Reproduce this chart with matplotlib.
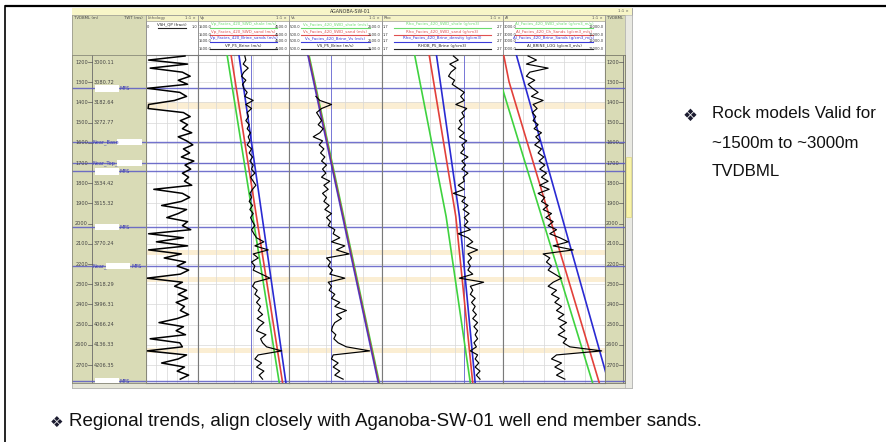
import numpy as np
import matplotlib
matplotlib.use("Agg")
import matplotlib.pyplot as plt
from matplotlib.patches import Rectangle

W, H = 887, 442

# depth window of the log display, m TVDBML
TOP, BASE = 1165, 2789

# log samples every 20 m
DEPTH = np.arange(1170, 2771, 20)

VSH = [0.75, 0.05, 0.80, 0.08, 0.70, 0.85, 0.62, 0.80, 0.03, 0.65,
       0.78, 0.55, 0.05, 0.04, 0.72, 0.85, 0.66, 0.80, 0.70, 0.88,
       0.62, 0.78, 0.90, 0.72, 0.84, 0.68, 0.92, 0.75, 0.86, 0.70,
       0.82, 0.74, 0.88, 0.15, 0.70, 0.84, 0.68, 0.30, 0.78, 0.62,
       0.40, 0.80, 0.70, 0.86, 0.05, 0.72, 0.20, 0.80, 0.05, 0.68,
       0.35, 0.76, 0.60, 0.82, 0.66, 0.02, 0.70, 0.55, 0.78, 0.62,
       0.80, 0.58, 0.74, 0.66, 0.82, 0.60, 0.25, 0.72, 0.58, 0.76,
       0.08, 0.65, 0.70, 0.02, 0.78, 0.62, 0.30, 0.74, 0.60, 0.82,
       0.66]

VP_LOG = [3044, 3077, 2989, 3155, 3011, 2934, 3077, 2967, 3011, 3121,
          3044, 3320, 3077, 3265, 3121, 3165, 3077, 3188, 3121, 3232,
          3155, 3210, 3121, 3265, 3188, 3298, 3210, 3320, 3265, 3375,
          3232, 3320, 3408, 3298, 3210, 3265, 3188, 3298, 3210, 3320,
          3232, 3298, 3375, 3265, 3342, 3430, 3673, 3375, 3816, 3320,
          3485, 3265, 3375, 3320, 3596, 3872, 3375, 3298, 3452, 3375,
          3541, 3430, 3563, 3485, 3629, 3452, 3673, 3519, 3430, 3739,
          3563, 3629, 3761, 4258, 3485, 3375, 3596, 3430, 3673, 3519,
          3629]

nan = np.nan
VS_LOG = [nan, nan, nan, nan, nan, nan, nan, nan, nan, nan,
          1078, 1164, 1414, 1200, 1093, 1150, 1200, 1128, 1235, 1164,
          1021, 1221, 1150, 1250, 1178, 1271, 1200, 1307, 1221, 1292,
          1200, 1378, 1250, 1343, 1221, 1307, 1250, 1364, 1271, 1414,
          1307, 1393, 1343, 1485, 1450, 1592, 1414, 1700, 1521, 1792,
          1307, 1393, 1343, 1435, 1378, 1700, 1343, 1414, 1364, 1485,
          1414, 1592, 1485, 1735, 1521, 1628, 1485, 1435, 1414, 1507,
          1464, 1557, 1735, 2235, 1450, 1414, 1557, 1450, 1592, 1485,
          1664]

RHO_LOG = [2.29, 2.33, 2.26, 2.31, 2.27, 2.25, 2.30, 2.28, 2.33, 2.38,
           2.35, 2.38, 2.31, 2.40, 2.36, 2.38, 2.34, 2.36, 2.33, 2.38,
           2.34, 2.40, 2.36, 2.38, 2.35, 2.41, 2.36, 2.39, 2.36, 2.41,
           2.37, 2.38, 2.33, 2.38, 2.29, 2.39, 2.36, 2.41, 2.37, 2.42,
           2.38, 2.41, 2.38, 2.43, 2.33, 2.41, 2.45, 2.40, 2.49, 2.41,
           2.44, 2.41, 2.43, 2.41, 2.45, 2.34, 2.54, 2.43, 2.45, 2.43,
           2.47, 2.44, 2.47, 2.45, 2.48, 2.45, 2.49, 2.46, 2.49, 2.47,
           2.49, 2.46, 2.48, 2.43, 2.49, 2.47, 2.50, 2.47, 2.51, 2.48,
           2.51]

AI_LOG = [4967, 5623, 4836, 6541, 5098, 4836, 5492, 4967, 5308, 5754,
          5229, 6148, 5361, 5675, 5308, 5570, 5361, 5754, 5439, 6016,
          5570, 5885, 5492, 6016, 5754, 6200, 5832, 6279, 5885, 6410,
          6016, 6541, 5885, 6620, 5754, 6279, 6016, 6541, 6148, 6803,
          6357, 6935, 6541, 7197, 6672, 7459, 8115, 6935, 8508, 6148,
          6672, 6410, 6803, 6541, 7066, 7590, 6935, 6541, 7197, 6803,
          7407, 7066, 7590, 7197, 7774, 7328, 7984, 7459, 7853, 7328,
          7984, 7721, 8246, 10738, 7197, 6803, 7590, 7066, 7721, 7197,
          7853]

# rock model trends (shale = green, SWD sand = red, brine sand = blue)
VP_TREND_DEPTH = [1165, 2789]
VP_SHALE = [2460, 4180]
VP_SAND = [2590, 4290]
VP_BRINE = [2850, 4400]

VS_TREND_DEPTH = [1165, 2789]
VS_SHALE = [930, 2445]
VS_SAND = [915, 2430]
VS_BRINE = [905, 2420]

RHO_TREND_DEPTH = [1165, 1965, 2789]
RHO_SHALE = [1.97, 2.23, 2.43]
RHO_SAND = [2.09, 2.31, 2.45]
RHO_BRINE = [2.15, 2.34, 2.47]

AI_SHALE_DEPTH = [1165, 2789]
AI_SHALE = [2150, 10030]
AI_SAND_DEPTH = [1165, 1297, 2789]
AI_SAND = [3052, 3472, 10554]
AI_BRINE_DEPTH = [1165, 2789]
AI_BRINE = [4049, 11290]

# cutoffs drawn as thin blue verticals
VP_CUT, VS_CUT, RHO_CUT = 3250, 1400, 2.38

DEPTH_TICKS = [1200, 1300, 1400, 1500, 1600, 1700, 1800, 1900,
               2000, 2100, 2200, 2300, 2400, 2500, 2600, 2700]
TWT_LABELS = ["3000.11", "3080.72", "3182.64", "3272.77", "", "",
              "3534.42", "3615.32", "", "3770.24", "", "3918.29",
              "3996.31", "4066.24", "4136.33", "4206.35"]

MARKER_DEPTH = [1330, 1596, 1700, 1741, 2017, 2210, 2780]
MARKER_PREFIX = ["", "Near_Base", "Near_Top_", "", "", "Near_", ""]
MARKER_SUFFIX = ["MFS", "", "", "MFS", "MFS", "MFS", "MFS"]

# thin sand / facies shading
BANDS = [(1400, 1430), (2130, 2155), (2264, 2290), (2615, 2640)]

VP_HEAD = ["Vp_Facies_420_SWD_shale (m/s)", "Vp_Facies_420_SWD_sand (m/s)",
           "Vp_Facies_420_Brine_sands (m/s)", "VP_P5_Brine (m/s)"]
VS_HEAD = ["Vs_Facies_420_SWD_shale (m/s)", "Vs_Facies_420_SWD_sand (m/s)",
           "Vs_Facies_420_Brine_Vs (m/s)", "VS_P5_Brine (m/s)"]
RHO_HEAD = ["Rho_Facies_420_SWD_shale (g/cm3)", "Rho_Facies_420_SWD_sand (g/cm3)",
            "Rho_Facies_420_Brine_density (g/cm3)", "RHOB_P5_Brine (g/cm3)"]
AI_HEAD = ["AI_Facies_420_SWD_shale (g/cm3_m/s)", "AI_Facies_420_Ch_Sands (g/cm3_m/s)",
           "AI_Facies_420_Brine_Sands (g/cm3_m/s)", "AI_BRINE_LOG (g/cm3_m/s)"]

GREEN, RED, BLUE = "#3fd23f", "#e2403a", "#2a2ad2"
OLIVE = "#d9dbb6"
STRIP = "#f5f3c6"
MARK = "#5a5ac6"
SLIDE_FONT = ["Liberation Sans", "DejaVu Sans"]

PLOT_Y0, PLOT_Y1 = 55, 383


def px_rect(x0, y0, x1, y1):
    return [x0 / W, 1 - y1 / H, (x1 - x0) / W, (y1 - y0) / H]


fig = plt.figure(figsize=(W / 100, H / 100), dpi=100)
fig.patch.set_facecolor("white")

ov = fig.add_axes([0, 0, 1, 1])
ov.set_xlim(0, W)
ov.set_ylim(H, 0)
ov.axis("off")

# slide frame
ov.plot([5, W], [6, 6], color="black", lw=1.6, solid_capstyle="butt")
ov.plot([5, 5], [6, H], color="black", lw=1.2)

# log window background, title bar, header blocks
ov.add_patch(Rectangle((72, 8), 560, 380, facecolor="#ecebdc", edgecolor="#9a9a9a", lw=0.6))
ov.add_patch(Rectangle((72, 8), 560, 7, facecolor="#f8f6c8", edgecolor="none"))
ov.text(350, 11.5, "AGANOBA-SW-01", fontsize=3.4, ha="center", va="center", color="#333")
ov.text(629, 11.5, "1:1 ×", fontsize=2.8, ha="right", va="center", color="#555")
ov.add_patch(Rectangle((72, 15), 74, 40, facecolor=OLIVE, edgecolor="#9a9a8a", lw=0.5))
ov.add_patch(Rectangle((605, 15), 20, 40, facecolor=OLIVE, edgecolor="#9a9a8a", lw=0.5))
ov.text(74, 18, "TVDBML (m)", fontsize=2.8, va="center", color="#444")
ov.text(143, 18, "TWT (ms)", fontsize=2.8, ha="right", va="center", color="#444")
ov.text(607, 18, "TVDBML", fontsize=2.8, va="center", color="#444")

# scrollbars
ov.add_patch(Rectangle((625, 15), 7, 373, facecolor="#e9e9e2", edgecolor="#b0b0b0", lw=0.4))
ov.add_patch(Rectangle((626, 157), 5, 60, facecolor="#f8f3a8", edgecolor="#d8d070", lw=0.4))
ov.add_patch(Rectangle((72, PLOT_Y1), 553, 5, facecolor="#e6e6d8", edgecolor="#b0b0b0", lw=0.4))


def header(x0, x1, name, labels, lo, hi, colors):
    ov.add_patch(Rectangle((x0, 15), x1 - x0, 40, facecolor="white", edgecolor="#8a8a8a", lw=0.6))
    ov.add_patch(Rectangle((x0, 15), x1 - x0, 6, facecolor=STRIP, edgecolor="#8a8a8a", lw=0.4))
    ov.text(x0 + 2, 18, name, fontsize=2.8, va="center", color="#555")
    ov.text(x1 - 2, 18, "1:1 ×", fontsize=2.8, ha="right", va="center", color="#555")
    for i, (lab, c) in enumerate(zip(labels, colors)):
        ty = 24.5 + 7 * i
        ov.text((x0 + x1) / 2, ty, lab, fontsize=2.9, ha="center", va="center", color=c)
        ov.plot([x0 + 12, x1 - 12], [ty + 3, ty + 3], color=c, lw=0.8)
        ov.text(x0 + 1, ty + 3, lo, fontsize=2.6, va="center", color="#333")
        ov.text(x1 - 1, ty + 3, hi, fontsize=2.6, ha="right", va="center", color="#333")


ROW_COLORS = ["#6ddc6d", "#e05050", "#3a3ad8", "#222222"]
header(146, 198, "Lithology", ["VSH_QP (fract)"], "0", "1.0", ["#222222"])
header(198, 289, "Vp", VP_HEAD, "1500.0", "4500.0", ROW_COLORS)
header(289, 382, "Vs", VS_HEAD, "500.0", "2500.0", ROW_COLORS)
header(382, 503, "Rho", RHO_HEAD, "1.7", "2.7", ROW_COLORS)
header(503, 605, "AI", AI_HEAD, "3000.0", "11000.0", ROW_COLORS)


def track(x0, x1, lo, hi):
    ax = fig.add_axes(px_rect(x0, PLOT_Y0, x1, PLOT_Y1))
    ax.set_xlim(lo, hi)
    ax.set_ylim(BASE, TOP)
    ax.set_xticks([])
    ax.set_yticks([])
    for a, b in BANDS:
        ax.axhspan(a, b, color="#fbeed3", lw=0, zorder=0)
    for f in (0.2, 0.4, 0.6, 0.8):
        ax.axvline(lo + f * (hi - lo), color="#d6d6d6", lw=0.5, zorder=1)
    for d in DEPTH_TICKS:
        ax.axhline(d, color="#d8d8d8", lw=0.5, zorder=1)
    for d in MARKER_DEPTH:
        ax.axhline(d, color=MARK, lw=1.0, alpha=0.85, zorder=2)
    for s in ax.spines.values():
        s.set_color("#7a7a7a")
        s.set_linewidth(0.8)
    return ax


LOG_LW = 0.85
TREND_LW = 1.2

ax_vsh = track(146, 198, 0, 1)
ax_vsh.plot(VSH, DEPTH, color="black", lw=1.1, zorder=3)

ax_vp = track(198, 289, 1500, 4500)
ax_vp.axvline(VP_CUT, color="#6060d0", lw=0.6, zorder=2)
ax_vp.plot(VP_SHALE, VP_TREND_DEPTH, color=GREEN, lw=TREND_LW, zorder=3)
ax_vp.plot(VP_SAND, VP_TREND_DEPTH, color=RED, lw=TREND_LW, zorder=3)
ax_vp.plot(VP_BRINE, VP_TREND_DEPTH, color=BLUE, lw=TREND_LW, zorder=3)
ax_vp.plot(VP_LOG, DEPTH, color="black", lw=LOG_LW, zorder=4)

ax_vs = track(289, 382, 500, 2500)
ax_vs.axvline(VS_CUT, color="#6060d0", lw=0.6, zorder=2)
ax_vs.plot(VS_SHALE, VS_TREND_DEPTH, color=GREEN, lw=TREND_LW, zorder=3)
ax_vs.plot(VS_SAND, VS_TREND_DEPTH, color=RED, lw=TREND_LW, zorder=3)
ax_vs.plot(VS_BRINE, VS_TREND_DEPTH, color=BLUE, lw=TREND_LW, alpha=0.75, zorder=3)
ax_vs.plot(VS_LOG, DEPTH, color="black", lw=LOG_LW, zorder=4)

ax_rho = track(382, 503, 1.7, 2.7)
ax_rho.axvline(RHO_CUT, color="#6060d0", lw=0.6, zorder=2)
ax_rho.plot(RHO_SHALE, RHO_TREND_DEPTH, color=GREEN, lw=TREND_LW, zorder=3)
ax_rho.plot(RHO_SAND, RHO_TREND_DEPTH, color=RED, lw=TREND_LW, zorder=3)
ax_rho.plot(RHO_BRINE, RHO_TREND_DEPTH, color=BLUE, lw=TREND_LW, zorder=3)
ax_rho.plot(RHO_LOG, DEPTH, color="black", lw=LOG_LW, zorder=4)

ax_ai = track(503, 605, 3000, 11000)
ax_ai.plot(AI_SHALE, AI_SHALE_DEPTH, color=GREEN, lw=TREND_LW, zorder=3)
ax_ai.plot(AI_SAND, AI_SAND_DEPTH, color=RED, lw=TREND_LW, zorder=3)
ax_ai.plot(AI_BRINE, AI_BRINE_DEPTH, color=BLUE, lw=TREND_LW, zorder=3)
ax_ai.plot(AI_LOG, DEPTH, color="black", lw=LOG_LW, zorder=4)

# left depth column: x axis in pixels so labels and boxes line up
ax_d = fig.add_axes(px_rect(72, PLOT_Y0, 146, PLOT_Y1))
ax_d.set_xlim(72, 146)
ax_d.set_ylim(BASE, TOP)
ax_d.set_facecolor(OLIVE)
ax_d.set_xticks([])
ax_d.set_yticks([])
for s in ax_d.spines.values():
    s.set_color("#8a8a7a")
    s.set_linewidth(0.6)
ax_d.axvline(92, color="#6a6a6a", lw=0.6)
for d, twt in zip(DEPTH_TICKS, TWT_LABELS):
    ax_d.text(88, d, str(d), fontsize=3.6, ha="right", va="center", color="#444")
    ax_d.plot([88.3, 92], [d, d], color="#555", lw=0.5)
    if twt:
        ax_d.text(93.5, d, twt, fontsize=3.6, va="center", color="#444")
for d, pre, suf in zip(MARKER_DEPTH, MARKER_PREFIX, MARKER_SUFFIX):
    ax_d.axhline(d, color=MARK, lw=1.0, alpha=0.85)
    if pre == "":
        bx0, bx1 = 95, 119
    elif pre == "Near_":
        bx0, bx1 = 106, 130
    else:
        bx0, bx1 = 117, 142
    if pre:
        ax_d.text(93, d, pre, fontsize=3.6, va="center", color="#3c3cb4", zorder=6)
    ax_d.add_patch(Rectangle((bx0, d - 16), bx1 - bx0, 32, facecolor="white",
                             edgecolor="none", zorder=5))
    if suf:
        ax_d.text(bx1 + 1, d, suf, fontsize=3.6, va="center", color="#3c3cb4", zorder=6)

# right depth column
ax_r = fig.add_axes(px_rect(605, PLOT_Y0, 625, PLOT_Y1))
ax_r.set_xlim(605, 625)
ax_r.set_ylim(BASE, TOP)
ax_r.set_facecolor(OLIVE)
ax_r.set_xticks([])
ax_r.set_yticks([])
for s in ax_r.spines.values():
    s.set_color("#7a7a6a")
    s.set_linewidth(0.6)
ax_r.axvline(623, color="#6a6a6a", lw=0.6)
for d in DEPTH_TICKS:
    ax_r.text(619, d, str(d), fontsize=3.6, ha="right", va="center", color="#444")
    ax_r.plot([619.3, 623], [d, d], color="#555", lw=0.5)
for d in MARKER_DEPTH:
    ax_r.axhline(d, color=MARK, lw=1.0, alpha=0.85)

# slide text
ov.text(690, 116, "❖", fontsize=12, ha="center", va="center", color="#1c1c30", family=SLIDE_FONT)
ov.text(712, 113, "Rock models Valid for", fontsize=12.2, va="center", color="#111", family=SLIDE_FONT)
ov.text(712, 143, "~1500m to ~3000m", fontsize=12.2, va="center", color="#111", family=SLIDE_FONT)
ov.text(712, 172, "TVDBML", fontsize=12.2, va="center", color="#111", family=SLIDE_FONT)

ov.text(57, 423, "❖", fontsize=11, ha="center", va="center", color="#1c1c30", family=SLIDE_FONT)
ov.text(69, 422, "Regional trends, align closely with Aganoba-SW-01 well end member sands.",
        fontsize=13.5, va="center", color="#111", family=SLIDE_FONT)

fig.savefig("out.png", dpi=100)
